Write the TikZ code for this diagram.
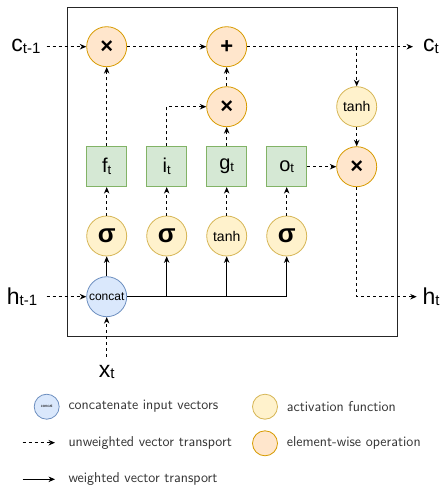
\documentclass[tikz,border=0pt]{standalone}
\usepackage{fontspec}
\setmainfont{Liberation Sans}
\usetikzlibrary{arrows.meta}
\definecolor{opfill}{HTML}{FFE6CC}
\definecolor{opdraw}{HTML}{D79B00}
\definecolor{actfill}{HTML}{FFF2CC}
\definecolor{actdraw}{HTML}{D6B656}
\definecolor{gatefill}{HTML}{D5E8D4}
\definecolor{gatedraw}{HTML}{82B366}
\definecolor{catfill}{HTML}{DAE8FC}
\definecolor{catdraw}{HTML}{6C8EBF}
\definecolor{legtext}{HTML}{333333}
\newcommand{\sublabel}[4]{{\fontsize{#3}{#3}\selectfont #1}\raisebox{-0.35ex}{\fontsize{#4}{#4}\selectfont #2}}
\tikzset{
  op/.style={circle, draw=opdraw, fill=opfill, line width=0.8pt, minimum size=40pt, inner sep=0pt, font=\fontsize{22}{22}\selectfont\bfseries},
  act/.style={circle, draw=actdraw, fill=actfill, line width=0.8pt, minimum size=40pt, inner sep=0pt, font=\fontsize{26}{26}\selectfont\bfseries},
  gate/.style={rectangle, draw=gatedraw, fill=gatefill, line width=0.8pt, minimum size=40pt, inner sep=0pt},
  cat/.style={circle, draw=catdraw, fill=catfill, line width=0.8pt, minimum size=40pt, inner sep=0pt, font=\fontsize{12}{12}\selectfont},
  flow/.style={-{Stealth[length=6.5pt,width=5.5pt]}, dash pattern=on 3pt off 3pt, line width=0.8pt},
  wflow/.style={-{Stealth[length=6.5pt,width=5.5pt]}, line width=0.8pt},
  legend/.style={anchor=west, inner sep=0pt, text=legtext, font=\sffamily\fontsize{14.3}{14.3}\selectfont},
}

\begin{document}
\begin{tikzpicture}[x=1pt, y=-1pt]
  \useasboundingbox (0,0) rectangle (444,501);
  % cell border
  \draw[line width=0.8pt, draw=black!85] (67,7) rectangle (397,336);

  % cell state line
  \node[op] (mulf) at (106.7,46.7) {×};
  \node[op] (add) at (226.7,46.7) {+};
  \node[op] (mulg) at (226.7,106.7) {×};
  \node[act, font=\fontsize{14}{14}\selectfont] (tanhc) at (356.7,106.7) {tanh};
  \node[op] (mulo) at (356.7,166.7) {×};

  % gates
  \node[gate] (gatef) at (106.7,166.7) {\sublabel{f}{t}{20}{13}};
  \node[gate] (gatei) at (166.7,166.7) {\sublabel{i}{t}{20}{13}};
  \node[gate] (gateg) at (226.7,166.7) {\sublabel{g}{t}{20}{13}};
  \node[gate] (gateo) at (286.7,166.7) {\sublabel{o}{t}{20}{13}};

  % activations
  \node[act] (actf) at (106.7,236) {σ};
  \node[act] (acti) at (166.7,236) {σ};
  \node[act, font=\fontsize{14}{14}\selectfont] (actg) at (226.7,236) {tanh};
  \node[act] (acto) at (286.7,236) {σ};

  \node[cat] (cat) at (106.7,296.7) {concat};

  % inputs and outputs
  \node (cprev) at (26,46.7) {\sublabel{c}{t-1}{23}{15}};
  \node (cnext) at (431,46.7) {\sublabel{c}{t}{23}{15}};
  \node (hprev) at (22,296.7) {\sublabel{h}{t-1}{23}{15}};
  \node (hnext) at (431,296.7) {\sublabel{h}{t}{23}{15}};
  \node (xin) at (106.7,372) {\sublabel{x}{t}{23}{15}};
  \coordinate (cinA) at (46.7,46.7);
  \coordinate (coutB) at (413,46.7);
  \coordinate (ctap) at (356.7,46.7);
  \coordinate (hinA) at (46.7,296.7);
  \coordinate (houtB) at (416.7,296.7);
  \coordinate (xinA) at (106.7,356.7);

  %unweighted
  \draw[flow] (cinA) -- (mulf);
  \draw[flow] (mulf) -- (add);
  \draw[flow] (add) -- (coutB);
  \draw[flow] (ctap) -- (tanhc);
  \draw[flow] (tanhc) -- (mulo);
  \draw[flow] (mulo) |- (houtB);
  \draw[flow] (hinA) -- (cat);
  \draw[flow] (xinA) -- (cat);
  \draw[flow] (gatef) -- (mulf);
  \draw[flow] (gatei) |- (mulg);
  \draw[flow] (gateg) -- (mulg);
  \draw[flow] (mulg) -- (add);
  \draw[flow] (gateo) -- (mulo);
  \foreach \a/\g in {actf/gatef, acti/gatei, actg/gateg, acto/gateo}
    \draw[flow] (\a) -- (\g);

  %weighted
  \draw[wflow] (cat) -- (actf);
  \draw[line width=0.8pt] (cat) -- (cat -| acto);
  \foreach \a in {acti, actg, acto}
    \draw[wflow] (cat -| \a) -- (\a);

  % legend
  \node[cat, minimum size=25pt, font=\fontsize{4}{4}\selectfont] (lcat) at (46.7,406.7) {concat};
  \node[legend] (lcattxt) at (68.3,406.7) {concatenate input vectors};
  \coordinate (ldashA) at (22.7,442.7);
  \coordinate (ldashB) at (55,442.7);
  \draw[flow] (ldashA) -- (ldashB);
  \node[legend] (ldashtxt) at (68.3,442.7) {unweighted vector transport};
  \coordinate (lsolidA) at (22.7,479.3);
  \coordinate (lsolidB) at (55,479.3);
  \draw[wflow] (lsolidA) -- (lsolidB);
  \node[legend] (lsolidtxt) at (68.3,479.3) {weighted vector transport};
  \node[act, minimum size=25pt] (lact) at (265,406.7) {};
  \node[legend] (lacttxt) at (286.7,406.7) {activation function};
  \node[op, minimum size=25pt] (lop) at (265,443.3) {};
  \node[legend] (loptxt) at (286.7,443.3) {element-wise operation};
\end{tikzpicture}
\end{document}
